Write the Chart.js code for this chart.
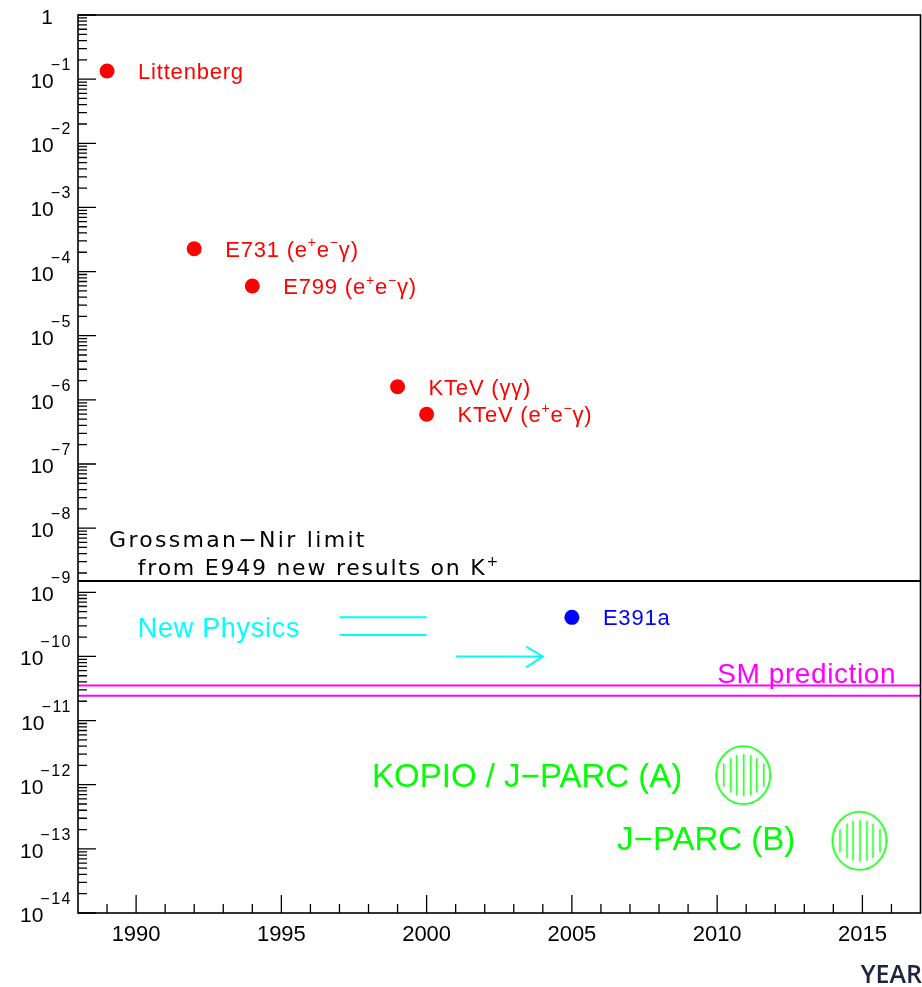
<!DOCTYPE html>
<html><head><meta charset="utf-8">
<script src="https://cdn.jsdelivr.net/npm/chart.js@4/dist/chart.umd.min.js"></script>
<style>html,body{margin:0;padding:0;background:#fff}#wrap{width:922px;height:987px;position:relative}</style>
</head><body><div id="wrap"><canvas id="c" width="922" height="987"></canvas></div>
<script>
// ---------------- data ----------------
const pastNames  = ['Littenberg', 'E731 (e^{+}e^{\u2212}\u03b3)', 'E799 (e^{+}e^{\u2212}\u03b3)', 'KTeV (\u03b3\u03b3)', 'KTeV (e^{+}e^{\u2212}\u03b3)'];
const pastYears  = [1989, 1992, 1994, 1999, 2000];
const pastLimits = [1.34e-1, 2.27e-4, 5.95e-5, 1.6e-6, 5.95e-7];

const e391Names  = ['E391a'];
const e391Years  = [2005];
const e391Limits = [4.07e-10];

const futureNames = ['KOPIO / J\u2212PARC (A)', 'J\u2212PARC (B)'];
const futureYears = [2010.9, 2014.9];
const futureReach = [1.41e-12, 1.34e-13];

const grossmanNirLimit = 1.5e-9;
const smBand = [3.53e-11, 2.44e-11];
const newPhysicsYears  = [1997, 2000];
const newPhysicsLevels = [4.07e-10, 2.15e-10];
const arrowYears = [2001, 2004];
const arrowLevel = 1e-10;
const arrowHeadYears  = [2003.43, 2004, 2003.43];
const arrowHeadLevels = [1.42e-10, 1e-10, 6.76e-11];

const yearRange = [1988, 2017];
const yearTicks = [1990, 1995, 2000, 2005, 2010, 2015];
const decadeExponents = [0, -1, -2, -3, -4, -5, -6, -7, -8, -9, -10, -11, -12, -13, -14];

// text notes anchored in data units
const noteTexts  = ['Grossman\u2212Nir limit', 'from E949 new results on K^{+}', 'New Physics', 'SM prediction', 'KOPIO / J\u2212PARC (A)', 'J\u2212PARC (B)'];
const noteYears  = [1989.07, 1990.06, 1990.06, 2010.0, 2008.8, 2012.69];
const noteLevels = [5.08e-9, 1.86e-9, 2.0e-10, 3.81e-11, 9.3e-13, 9.6e-14];

// ---------------- styles ----------------
const RED = '#ff0000', BLUE = '#0000ff', CYAN = '#00ffff', MAGENTA = '#ff00ff', GREEN = '#00ff00';
const noteStyles = [
  {family: 'DejaVu Sans', size: 22, color: '#000', spacing: 2.3, align: 'left'},
  {family: 'DejaVu Sans', size: 22, color: '#000', spacing: 1.75, align: 'left'},
  {family: 'Liberation Sans', size: 27, color: CYAN, spacing: 0.7, align: 'left'},
  {family: 'Liberation Sans', size: 28, color: MAGENTA, spacing: 0.6, align: 'left'},
  {family: 'Liberation Sans', size: 33, color: GREEN, spacing: 0, align: 'right'},
  {family: 'Liberation Sans', size: 33, color: GREEN, spacing: 0, align: 'right'}
];
const pointLabelStyle = {family: 'Liberation Sans', size: 22, spacing: 0.8};

function parseRich(s) {
  const parts = []; const re = /\^\{([^}]*)\}/g; let last = 0, m;
  while ((m = re.exec(s))) {
    if (m.index > last) parts.push([s.slice(last, m.index), false]);
    parts.push([m[1], true]); last = re.lastIndex;
  }
  if (last < s.length) parts.push([s.slice(last), false]);
  return parts;
}
function setFont(ctx, st, sup) {
  const sz = sup ? Math.round(st.size * 0.62) : st.size;
  ctx.font = sz + 'px "' + st.family + '"';
  ctx.letterSpacing = (st.spacing || 0) + 'px';
}
function drawRich(ctx, s, x, y, st, align) {
  const parts = parseRich(s);
  let w = 0;
  parts.forEach(([t, sup]) => { setFont(ctx, st, sup); w += ctx.measureText(t).width; });
  let cx = align === 'right' ? x - w : x;
  ctx.fillStyle = st.color; ctx.textAlign = 'left'; ctx.textBaseline = 'alphabetic';
  parts.forEach(([t, sup]) => {
    setFont(ctx, st, sup);
    ctx.fillText(t, cx, sup ? y - st.size * 0.42 : y);
    cx += ctx.measureText(t).width;
  });
  ctx.letterSpacing = '0px';
}

function hatchedCircle(color) {
  const w = 62, h = 64;
  const c = document.createElement('canvas'); c.width = w; c.height = h;
  const g = c.getContext('2d');
  const cx = w / 2, cy = h / 2, rx = 27, ry = 29;
  g.strokeStyle = color; g.lineWidth = 1.7;
  g.beginPath(); g.ellipse(cx, cy, rx, ry, 0, 0, Math.PI * 2); g.stroke();
  g.lineWidth = 1.4;
  for (let k = -3; k <= 3; k++) {
    const d = k * 6.6;
    const half = ry * Math.sqrt(1 - (d / rx) * (d / rx)) - 8;
    g.beginPath(); g.moveTo(Math.round(cx + d) + 0.5, cy - half); g.lineTo(Math.round(cx + d) + 0.5, cy + half); g.stroke();
  }
  return c;
}

// ---------------- plugin: frame, ticks, labels, notes ----------------
const decor = {
  id: 'decor',
  afterDatasetsDraw(chart) {
    const ctx = chart.ctx, xs = chart.scales.x, ys = chart.scales.y, a = chart.chartArea;
    ctx.save();
    // point labels
    const drawPL = (names, yrs, vals, color) => names.forEach((n, i) => {
      const px = xs.getPixelForValue(yrs[i]), py = ys.getPixelForValue(vals[i]);
      drawRich(ctx, n, px + 31, py + 8, Object.assign({color}, pointLabelStyle), 'left');
    });
    drawPL(pastNames, pastYears, pastLimits, RED);
    drawPL(e391Names, e391Years, e391Limits, BLUE);
    // notes
    noteTexts.forEach((t, i) => {
      drawRich(ctx, t, xs.getPixelForValue(noteYears[i]), ys.getPixelForValue(noteLevels[i]), noteStyles[i], noteStyles[i].align);
    });
    // frame
    ctx.strokeStyle = '#000'; ctx.lineWidth = 1.6;
    ctx.strokeRect(a.left, a.top, a.right - a.left, a.bottom - a.top);
    // y ticks
    ctx.lineWidth = 1.3;
    ctx.beginPath();
    decadeExponents.forEach(e => {
      const py = ys.getPixelForValue(Math.pow(10, e));
      ctx.moveTo(a.left, py); ctx.lineTo(a.left + 18, py);
      if (e > decadeExponents[decadeExponents.length - 1]) {
        for (let m = 2; m <= 9; m++) {
          const v = m * Math.pow(10, e - 1);
          const my = ys.getPixelForValue(v);
          ctx.moveTo(a.left, my); ctx.lineTo(a.left + 9, my);
        }
      }
    });
    // x ticks
    for (let yr = yearRange[0] + 1; yr < yearRange[1]; yr++) {
      const px = xs.getPixelForValue(yr);
      const len = yearTicks.includes(yr) ? 18 : 9;
      ctx.moveTo(px, a.bottom); ctx.lineTo(px, a.bottom - len);
    }
    ctx.stroke();
    // y labels
    ctx.fillStyle = '#000'; ctx.textBaseline = 'alphabetic';
    decadeExponents.forEach(e => {
      const py = ys.getPixelForValue(Math.pow(10, e));
      if (e === 0) {
        ctx.font = '21px "Liberation Sans"'; ctx.textAlign = 'right';
        ctx.fillText('1', a.left - 25, py + 9);
        return;
      }
      ctx.font = '16px "Liberation Sans"'; ctx.textAlign = 'right';
      ctx.letterSpacing = '1.5px';
      const sup = '\u2212' + Math.abs(e);
      const sw = ctx.measureText(sup).width;
      const supRight = a.left - 6;
      ctx.fillText(sup, supRight, py - 9);
      ctx.letterSpacing = '0px';
      ctx.font = '21px "Liberation Sans"';
      ctx.fillText('10', supRight - sw + 3, py + 9);
    });
    // x labels
    ctx.font = '22px "Liberation Sans"'; ctx.textAlign = 'center';
    yearTicks.forEach(yr => ctx.fillText(String(yr), xs.getPixelForValue(yr), a.bottom + 28));
    // axis title
    ctx.font = '600 25px "Open Sans"'; ctx.textAlign = 'right'; ctx.fillStyle = '#1b2440';
    ctx.fillText('YEAR', 922, a.bottom + 70);
    ctx.restore();
  }
};

// ---------------- datasets ----------------
const pts = (xs, ys) => xs.map((x, i) => ({x, y: ys[i]}));
const hline = (v, x0, x1) => [{x: x0, y: v}, {x: x1, y: v}];
const lineDs = (data, color, w) => ({type: 'line', data, borderColor: color, borderWidth: w, pointRadius: 0, showLine: true, fill: false, tension: 0});

const datasets = [
  lineDs(hline(grossmanNirLimit, yearRange[0], yearRange[1]), '#000', 2),
  lineDs(hline(smBand[0], yearRange[0], yearRange[1]), MAGENTA, 2),
  lineDs(hline(smBand[1], yearRange[0], yearRange[1]), MAGENTA, 2),
  lineDs(hline(newPhysicsLevels[0], newPhysicsYears[0], newPhysicsYears[1]), CYAN, 2),
  lineDs(hline(newPhysicsLevels[1], newPhysicsYears[0], newPhysicsYears[1]), CYAN, 2),
  lineDs(hline(arrowLevel, arrowYears[0], arrowYears[1]), CYAN, 2),
  lineDs(pts(arrowHeadYears, arrowHeadLevels), CYAN, 2),
  {type: 'scatter', data: pts(pastYears, pastLimits), backgroundColor: RED, borderWidth: 0, pointRadius: 7.5},
  {type: 'scatter', data: pts(e391Years, e391Limits), backgroundColor: BLUE, borderWidth: 0, pointRadius: 7.5},
  {type: 'scatter', data: pts(futureYears, futureReach), pointStyle: hatchedCircle(GREEN), pointRadius: 30}
];

new Chart(document.getElementById('c'), {
  type: 'scatter',
  data: {datasets},
  options: {
    responsive: false, animation: false, devicePixelRatio: 1,
    layout: {autoPadding: false, padding: {left: 78, right: 1.5, top: 15, bottom: 74}},
    plugins: {legend: {display: false}, tooltip: {enabled: false}},
    scales: {
      x: {type: 'linear', min: yearRange[0], max: yearRange[1], display: false},
      y: {type: 'logarithmic', min: 1e-14, max: 1, display: false}
    }
  },
  plugins: [decor]
});
</script></body></html>
